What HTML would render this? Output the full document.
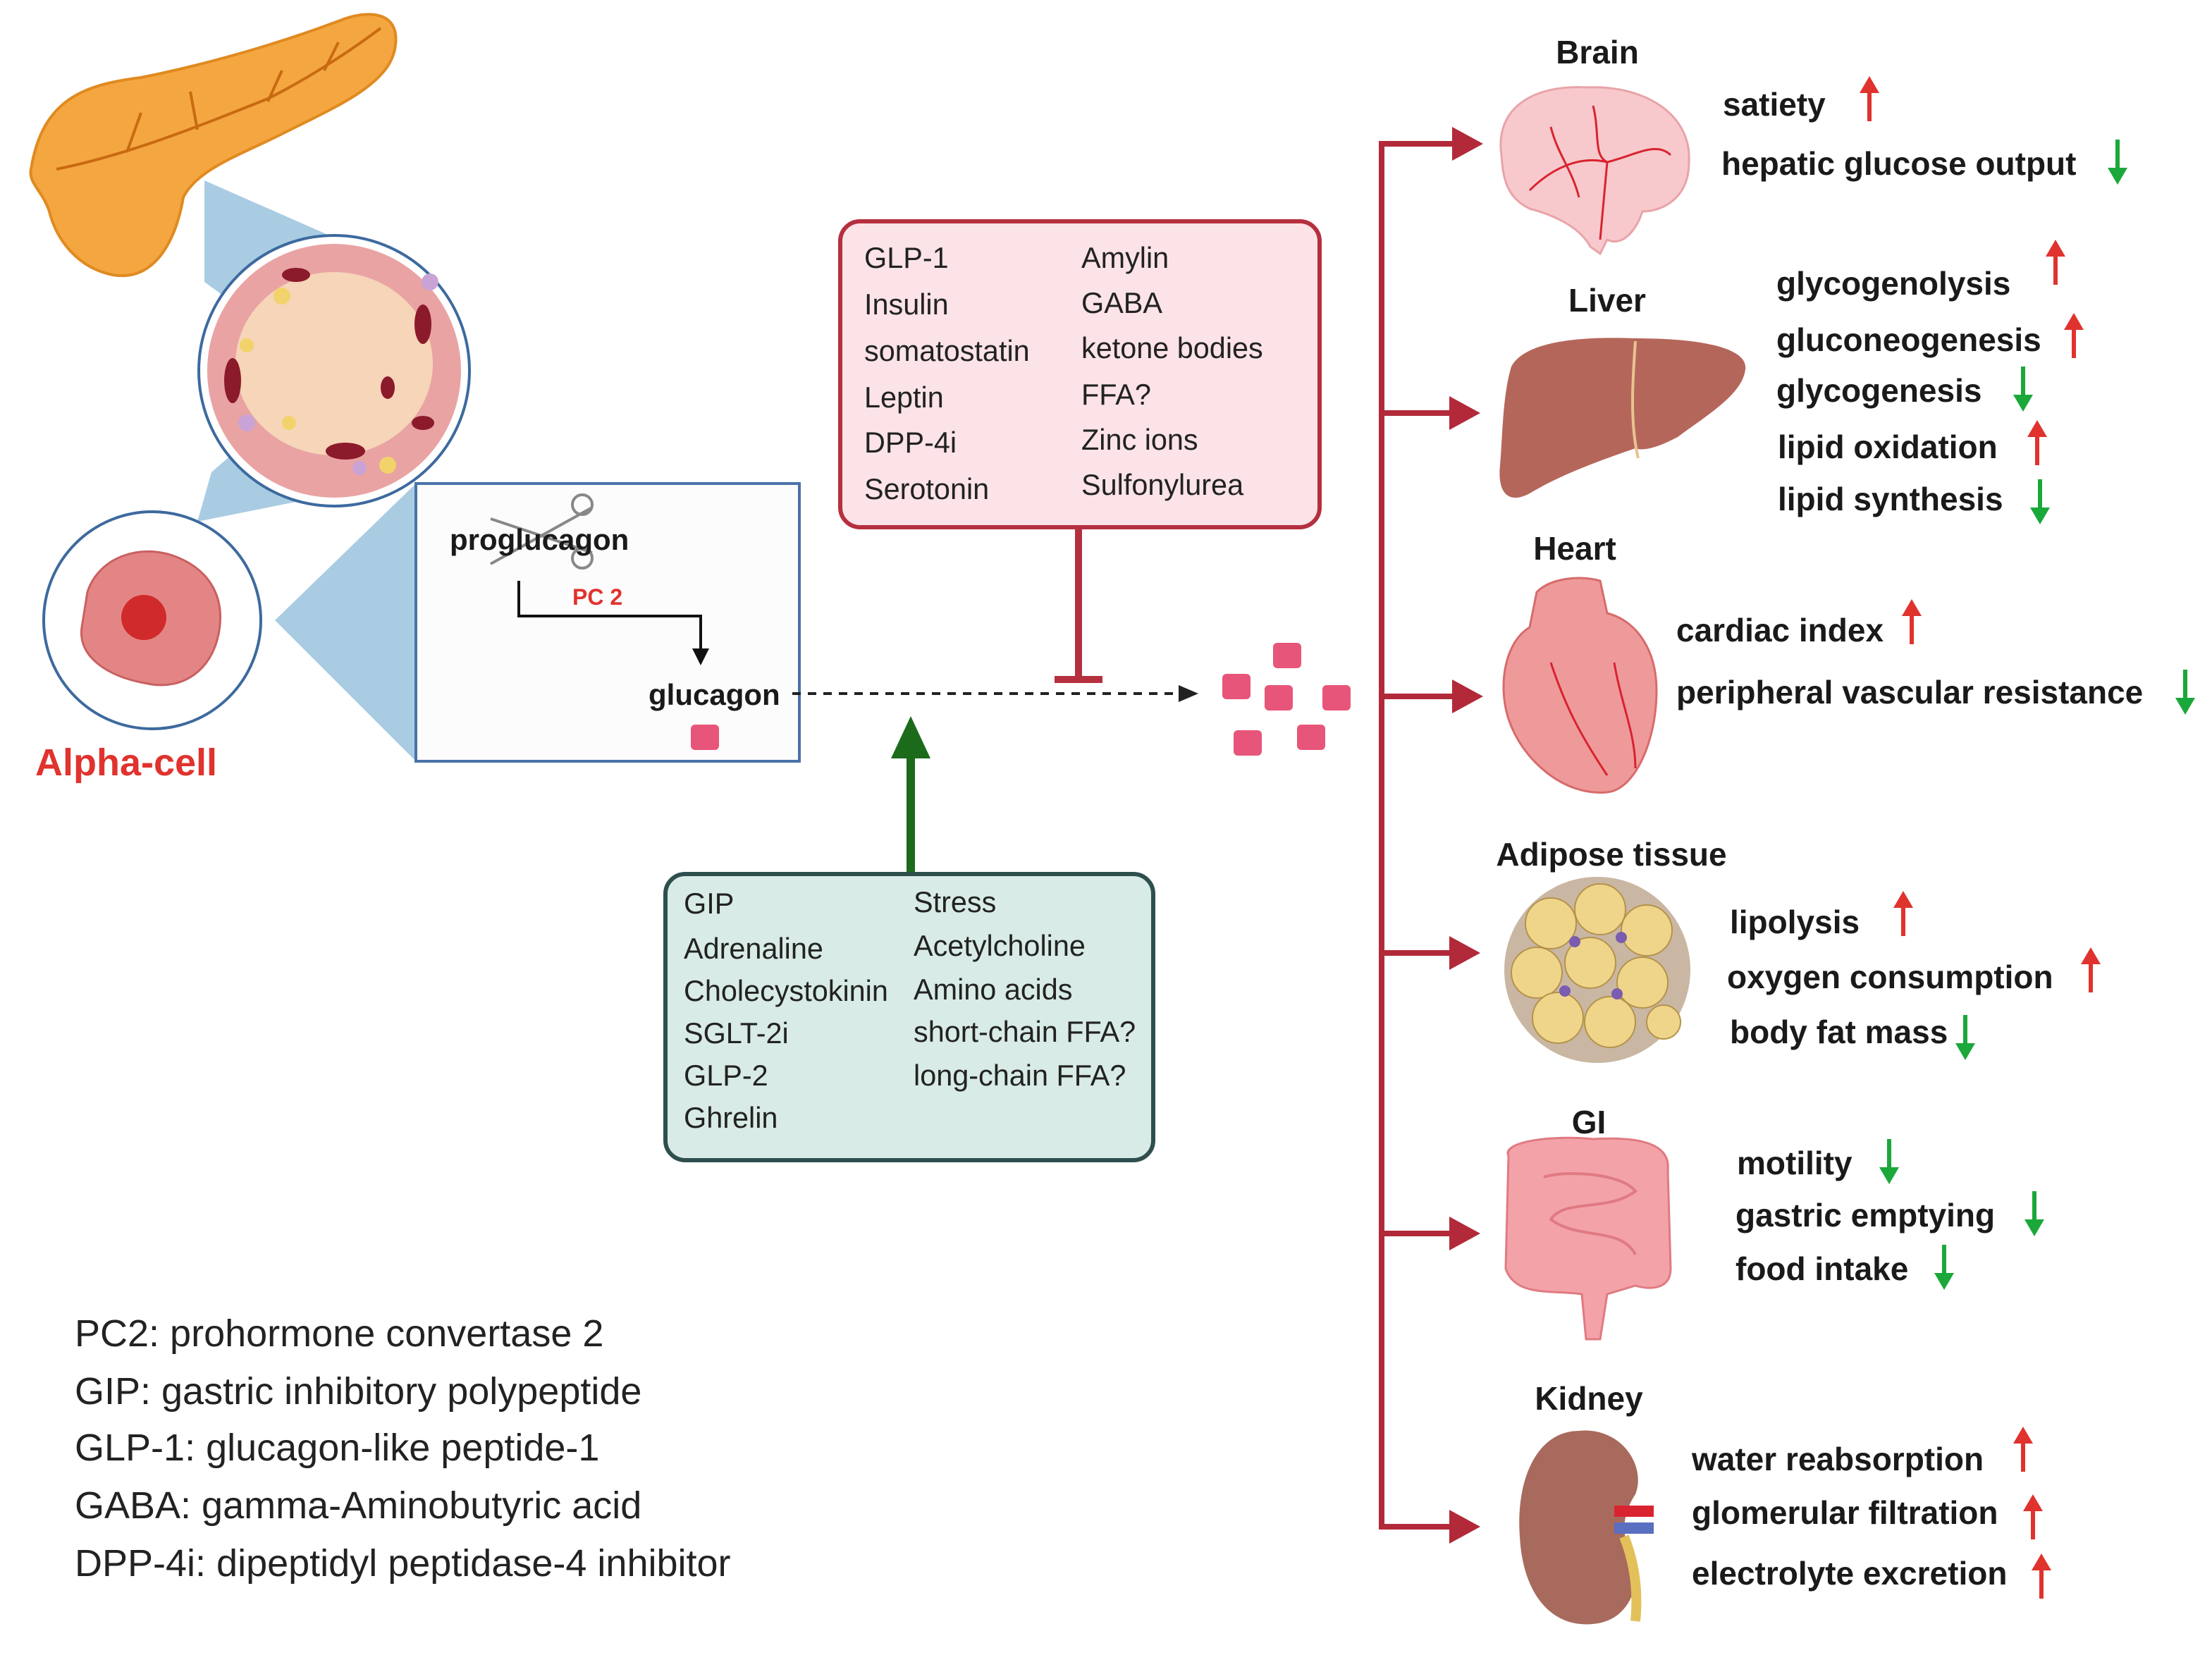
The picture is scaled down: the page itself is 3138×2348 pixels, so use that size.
<!DOCTYPE html>
<html><head><meta charset="utf-8"><style>
html,body{margin:0;padding:0;background:#fff;}
svg{display:block;}
text{font-family:"Liberation Sans",sans-serif;}
.b{font-weight:bold;font-size:23px;fill:#1a1a1a;}
.t{font-size:20.7px;fill:#222;}
.lg{font-size:27px;fill:#222;}
</style></head><body>
<svg width="3138" height="2348" viewBox="0 0 1569 1174" xmlns="http://www.w3.org/2000/svg">
<defs>
<g id="up"><line x1="0" y1="6" x2="0" y2="32" stroke="#e0332e" stroke-width="3"/><polygon points="-7,12 7,12 0,0" fill="#e0332e"/></g>
<g id="dn"><line x1="0" y1="0" x2="0" y2="26" stroke="#1aa83a" stroke-width="3"/><polygon points="-7,20 7,20 0,32" fill="#1aa83a"/></g>
<g id="sq"><rect x="-10" y="-9" width="20" height="18" rx="3" fill="#e8557a"/></g>
</defs>
<rect width="1569" height="1174" fill="#fff"/>

<polygon points="145,128 245,172 200,240 145,200" fill="#a9cce3"/>
<polygon points="150,335 190,300 215,355 140,370" fill="#a9cce3"/>
<polygon points="195,440 295,343 295,540" fill="#a9cce3"/>

<path d="M22,120 C30,70 60,60 100,55 C150,45 200,30 240,15 C265,5 285,10 280,35 C275,60 240,75 200,95 C170,110 140,120 130,140 C125,170 110,200 80,195 C55,190 40,170 35,150 C30,135 20,130 22,120 Z" fill="#f4a741" stroke="#e08a20" stroke-width="2"/>
<path d="M40,120 C90,110 140,90 190,70 C220,55 250,35 270,20 M90,108 L100,80 M140,92 L135,65 M190,72 L200,50 M230,50 L240,30" stroke="#c96a12" stroke-width="2" fill="none"/>

<circle cx="237" cy="263" r="96" fill="#fff" stroke="#3d6a9e" stroke-width="2"/>
<circle cx="237" cy="263" r="90" fill="#e9a3a3"/>
<ellipse cx="237" cy="258" rx="70" ry="65" fill="#f6d5b8"/>
<g fill="#8b1a2a">
<ellipse cx="165" cy="270" rx="6" ry="16"/><ellipse cx="300" cy="230" rx="6" ry="14"/><ellipse cx="245" cy="320" rx="14" ry="6"/>
<ellipse cx="210" cy="195" rx="10" ry="5"/><ellipse cx="275" cy="275" rx="5" ry="8"/><ellipse cx="300" cy="300" rx="8" ry="5"/>
</g>
<g fill="#f2d36b"><circle cx="200" cy="210" r="6"/><circle cx="175" cy="245" r="5"/><circle cx="275" cy="330" r="6"/><circle cx="205" cy="300" r="5"/></g>
<g fill="#c9a3d6"><circle cx="305" cy="200" r="6"/><circle cx="175" cy="300" r="6"/><circle cx="255" cy="332" r="5"/></g>

<circle cx="108" cy="440" r="77" fill="#fff" stroke="#3d6a9e" stroke-width="2"/>
<path d="M62,420 C70,395 100,385 125,395 C150,405 160,425 155,450 C150,475 130,490 105,485 C75,480 55,465 58,445 Z" fill="#e48585" stroke="#c96060" stroke-width="1.5"/>
<circle cx="102" cy="438" r="16" fill="#d02a2a"/>
<text x="25" y="550" style="font-size:27px;font-weight:bold;fill:#e0332e">Alpha-cell</text>

<rect x="295" y="343" width="272" height="197" fill="#fcfcfc" stroke="#4a72a8" stroke-width="2"/>
<g stroke="#888" stroke-width="2" fill="none"><line x1="348" y1="368" x2="420" y2="392"/><line x1="348" y1="400" x2="420" y2="360"/><circle cx="413" cy="358" r="7"/><circle cx="413" cy="396" r="7"/></g>
<text x="319" y="390" class="b" style="font-size:21px">proglucagon</text>
<polyline points="368,412 368,437 497,437 497,462" stroke="#111" stroke-width="2" fill="none"/>
<polygon points="491,460 503,460 497,472" fill="#111"/>
<text x="406" y="429" style="font-size:16px;font-weight:bold;fill:#e0332e">PC 2</text>
<text x="460" y="500" class="b" style="font-size:21px">glucagon</text>
<use href="#sq" x="500" y="523"/>

<line x1="562" y1="492" x2="838" y2="492" stroke="#222" stroke-width="2" stroke-dasharray="6,5"/>
<polygon points="836,486 850,492 836,498" fill="#222"/>
<use href="#sq" x="913" y="465"/><use href="#sq" x="877" y="487"/><use href="#sq" x="907" y="495"/><use href="#sq" x="948" y="495"/><use href="#sq" x="885" y="527"/><use href="#sq" x="930" y="523"/>

<rect x="596" y="157" width="340" height="217" rx="14" fill="#fbe3e8" stroke="#b5303f" stroke-width="3"/>
<g class="t">
<text x="613" y="190">GLP-1</text><text x="613" y="223">Insulin</text><text x="613" y="256">somatostatin</text><text x="613" y="289">Leptin</text><text x="613" y="321">DPP-4i</text><text x="613" y="354">Serotonin</text>
<text x="767" y="190">Amylin</text><text x="767" y="222">GABA</text><text x="767" y="254">ketone bodies</text><text x="767" y="287">FFA?</text><text x="767" y="319">Zinc ions</text><text x="767" y="351">Sulfonylurea</text>
</g>
<line x1="765" y1="374" x2="765" y2="482" stroke="#b5303f" stroke-width="5"/>
<line x1="748" y1="482" x2="782" y2="482" stroke="#b5303f" stroke-width="5"/>

<line x1="646" y1="620" x2="646" y2="535" stroke="#1b6b1b" stroke-width="6"/>
<polygon points="632,538 660,538 646,508" fill="#1b6b1b"/>
<rect x="472" y="620" width="346" height="203" rx="14" fill="#d8ebe6" stroke="#2f4f4f" stroke-width="3"/>
<g class="t">
<text x="485" y="648">GIP</text><text x="485" y="680">Adrenaline</text><text x="485" y="710">Cholecystokinin</text><text x="485" y="740">SGLT-2i</text><text x="485" y="770">GLP-2</text><text x="485" y="800">Ghrelin</text>
<text x="648" y="647">Stress</text><text x="648" y="678">Acetylcholine</text><text x="648" y="709">Amino acids</text><text x="648" y="739">short-chain FFA?</text><text x="648" y="770">long-chain FFA?</text>
</g>

<g class="lg">
<text x="53" y="955">PC2: prohormone convertase 2</text>
<text x="53" y="996">GIP: gastric inhibitory polypeptide</text>
<text x="53" y="1036">GLP-1: glucagon-like peptide-1</text>
<text x="53" y="1077">GABA: gamma-Aminobutyric acid</text>
<text x="53" y="1118">DPP-4i: dipeptidyl peptidase-4 inhibitor</text>
</g>

<g stroke="#b22a3a" stroke-width="4" fill="none">
<polyline points="1034,102 980,102 980,1083 1034,1083"/>
<line x1="980" y1="293" x2="1032" y2="293"/><line x1="980" y1="494" x2="1032" y2="494"/><line x1="980" y1="676" x2="1032" y2="676"/><line x1="980" y1="875" x2="1032" y2="875"/>
</g>
<g fill="#b22a3a">
<polygon points="1030,90 1052,102 1030,114"/><polygon points="1028,281 1050,293 1028,305"/><polygon points="1030,482 1052,494 1030,506"/><polygon points="1028,664 1050,676 1028,688"/><polygon points="1028,863 1050,875 1028,887"/><polygon points="1028,1071 1050,1083 1028,1095"/>
</g>

<path d="M1065,110 C1060,75 1090,60 1125,62 C1165,60 1200,80 1198,115 C1198,140 1180,150 1165,150 C1160,165 1150,175 1140,170 L1135,180 L1128,175 C1120,160 1100,152 1085,148 C1068,140 1066,125 1065,110 Z" fill="#f7c9cc" stroke="#e8a4a8" stroke-width="1.5"/>
<path d="M1085,135 C1100,120 1120,110 1140,115 M1100,90 C1105,110 1115,120 1120,140 M1130,75 C1135,95 1130,110 1140,115 C1160,110 1175,100 1185,110 M1140,115 L1135,170" stroke="#d9232f" stroke-width="1.5" fill="none"/>
<path d="M1072,260 C1080,245 1110,238 1160,240 C1200,240 1240,245 1238,262 C1236,280 1210,295 1190,310 C1175,318 1165,320 1160,318 C1140,325 1110,335 1085,350 C1070,358 1062,350 1064,330 C1066,305 1066,280 1072,260 Z" fill="#b5665a"/>
<path d="M1160,242 C1158,270 1156,300 1162,325" stroke="#e8c38f" stroke-width="2" fill="none"/>
<path d="M1090,420 C1100,410 1120,408 1135,412 L1140,435 C1160,440 1175,460 1175,490 C1175,525 1160,560 1140,562 C1110,565 1080,540 1070,510 C1062,485 1068,455 1085,445 Z" fill="#ef9a9a" stroke="#d76b6b" stroke-width="1.5"/>
<path d="M1100,470 C1110,500 1120,520 1140,550 M1145,470 C1150,500 1160,520 1160,545" stroke="#d9232f" stroke-width="1.5" fill="none"/>
<circle cx="1133" cy="688" r="66" fill="#c9b7a3"/>
<g fill="#efd58a" stroke="#b5924a" stroke-width="1">
<circle cx="1100" cy="655" r="18"/><circle cx="1135" cy="645" r="18"/><circle cx="1168" cy="660" r="18"/><circle cx="1090" cy="690" r="18"/><circle cx="1128" cy="683" r="18"/><circle cx="1165" cy="697" r="18"/><circle cx="1105" cy="722" r="18"/><circle cx="1142" cy="725" r="18"/><circle cx="1180" cy="725" r="12"/>
</g>
<g fill="#7a5cb0"><circle cx="1117" cy="668" r="4"/><circle cx="1150" cy="665" r="4"/><circle cx="1110" cy="703" r="4"/><circle cx="1147" cy="705" r="4"/></g>
<path d="M1070,820 C1065,810 1100,805 1130,808 C1165,806 1185,812 1183,830 L1185,900 C1185,915 1170,915 1160,912 L1140,918 L1135,950 L1125,950 L1122,918 C1100,915 1075,920 1068,900 Z" fill="#f3a3a8" stroke="#e07a82" stroke-width="1.5"/>
<path d="M1095,835 C1110,830 1150,832 1160,845 C1140,860 1110,850 1100,865 C1120,880 1150,870 1160,890" stroke="#e07a82" stroke-width="2" fill="none"/>
<path d="M1120,1015 C1090,1015 1075,1050 1078,1090 C1080,1130 1100,1155 1130,1152 C1155,1150 1165,1125 1158,1105 C1150,1090 1150,1075 1160,1060 C1168,1040 1150,1012 1120,1015 Z" fill="#a86a5c"/>
<rect x="1145" y="1068" width="28" height="8" fill="#d9232f"/><rect x="1145" y="1080" width="28" height="8" fill="#5a6fc0"/>
<path d="M1152,1090 C1160,1110 1162,1130 1160,1150" stroke="#e3c15a" stroke-width="7" fill="none"/>

<g class="b" text-anchor="middle">
<text x="1133" y="45">Brain</text><text x="1140" y="221">Liver</text><text x="1117" y="397">Heart</text><text x="1143" y="614">Adipose tissue</text><text x="1127" y="804">GI</text><text x="1127" y="1000">Kidney</text>
</g>

<g class="b">
<text x="1222" y="82">satiety</text>
<text x="1221" y="124">hepatic glucose output</text>
<text x="1260" y="209">glycogenolysis</text>
<text x="1260" y="249">gluconeogenesis</text>
<text x="1260" y="285">glycogenesis</text>
<text x="1261" y="325">lipid oxidation</text>
<text x="1261" y="362">lipid synthesis</text>
<text x="1189" y="455">cardiac index</text>
<text x="1189" y="499">peripheral vascular resistance</text>
<text x="1227" y="662">lipolysis</text>
<text x="1225" y="701">oxygen consumption</text>
<text x="1227" y="740">body fat mass</text>
<text x="1232" y="833">motility</text>
<text x="1231" y="870">gastric emptying</text>
<text x="1231" y="908">food intake</text>
<text x="1200" y="1043">water reabsorption</text>
<text x="1200" y="1081">glomerular filtration</text>
<text x="1200" y="1124">electrolyte excretion</text>
</g>
<use href="#up" x="1326" y="54"/>
<use href="#dn" x="1502" y="99"/>
<use href="#up" x="1458" y="170"/>
<use href="#up" x="1471" y="222"/>
<use href="#dn" x="1435" y="260"/>
<use href="#up" x="1445" y="298"/>
<use href="#dn" x="1447" y="340"/>
<use href="#up" x="1356" y="425"/>
<use href="#dn" x="1550" y="475"/>
<use href="#up" x="1350" y="632"/>
<use href="#up" x="1483" y="672"/>
<use href="#dn" x="1394" y="720"/>
<use href="#dn" x="1340" y="808"/>
<use href="#dn" x="1443" y="845"/>
<use href="#dn" x="1379" y="883"/>
<use href="#up" x="1435" y="1012"/>
<use href="#up" x="1442" y="1060"/>
<use href="#up" x="1448" y="1102"/>
</svg>
</body></html>
